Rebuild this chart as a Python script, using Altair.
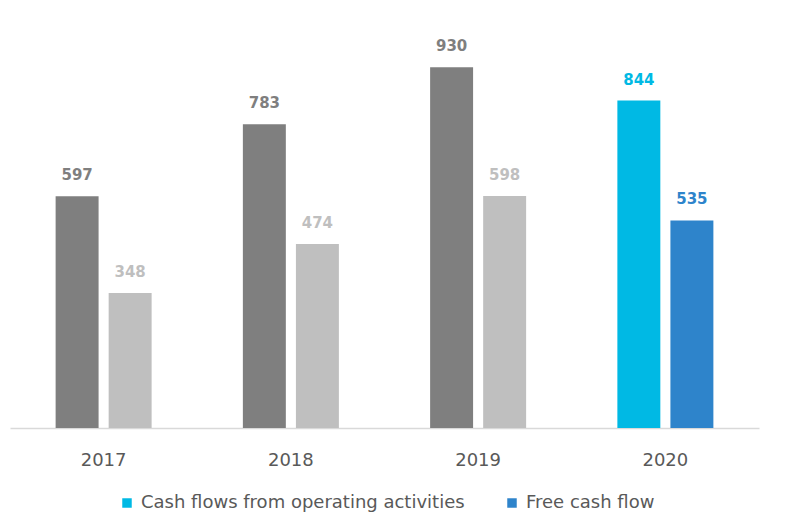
import altair as alt
import pandas as pd

years = ["2017", "2018", "2019", "2020"]
cfo = [597, 783, 930, 844]
fcf = [348, 474, 598, 535]
cfo_name = "Cash flows from operating activities"
fcf_name = "Free cash flow"

rows = []
for y, a, b in zip(years, cfo, fcf):
    cur = y == "2020"
    rows.append({"year": y, "series": "cfo", "value": a, "ckey": cfo_name if cur else "cfo_hist"})
    rows.append({"year": y, "series": "fcf", "value": b, "ckey": fcf_name if cur else "fcf_hist"})
df = pd.DataFrame(rows)

color_scale = alt.Scale(
    domain=[cfo_name, fcf_name, "cfo_hist", "fcf_hist"],
    range=["#00B9E4", "#2E84CB", "#7F7F7F", "#BFBFBF"],
)

base = alt.Chart(df).encode(
    x=alt.X("year:N", sort=years, title=None,
            scale=alt.Scale(paddingInner=0, paddingOuter=0),
            axis=alt.Axis(labelAngle=0, ticks=False, domainColor="#D9D9D9", domainWidth=1.5,
                          labelFontSize=18, labelColor="#595959", labelPadding=23,
                          labelFont="DejaVu Sans")),
    xOffset=alt.XOffset("series:N", sort=["cfo", "fcf"],
                        scale=alt.Scale(paddingInner=0.19, paddingOuter=0.86)),
    y=alt.Y("value:Q", scale=alt.Scale(domain=[0, 1000]), axis=None, title=None),
)

bars = base.mark_bar().encode(
    color=alt.Color("ckey:N", scale=color_scale,
                    legend=alt.Legend(values=[cfo_name, fcf_name], title=None, orient="none",
                                      legendX=108, legendY=454, direction="horizontal",
                                      symbolType="square", symbolSize=90, symbolStrokeWidth=0,
                                      labelFontSize=18, labelColor="#595959", labelFont="DejaVu Sans",
                                      columnPadding=38, labelOffset=5, padding=0, labelLimit=400))
)

labels = base.mark_text(baseline="alphabetic", dy=-16, fontSize=15, fontWeight="bold",
                        font="DejaVu Sans").encode(
    text="value:Q",
    color=alt.Color("ckey:N", scale=color_scale, legend=None),
)

chart = alt.layer(bars, labels).properties(
    width=749, height=388,
    autosize=alt.AutoSizeParams(type="none"),
    padding={"left": 2, "top": 32, "right": 30, "bottom": 86},
).configure_view(stroke=None)

chart.save("out.html", embed_options={"renderer": "svg", "actions": False})
